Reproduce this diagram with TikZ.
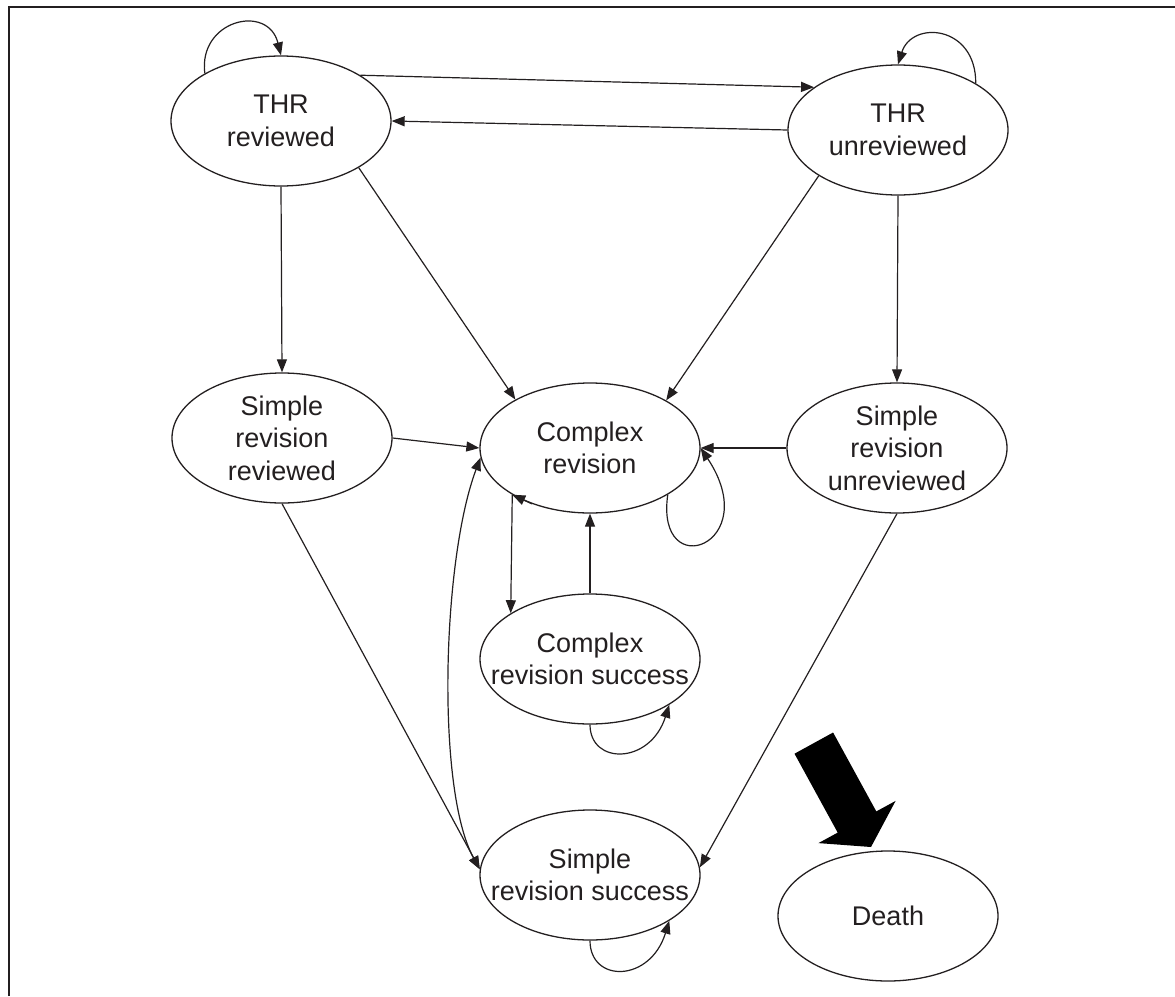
\documentclass[tikz,border=0pt]{standalone}
\usepackage{fontspec}
\setmainfont{Liberation Sans}
\usepackage{xcolor}
\definecolor{STink}{HTML}{231F20}
\usetikzlibrary{arrows.meta, shapes.geometric}

\begin{document}
\begin{tikzpicture}[x=1pt, y=-1pt,
  stTip/.tip={Triangle[length=13pt, width=10pt]},
  state/.style={ellipse, draw=STink, line width=1.3pt, minimum width=220pt,
    minimum height=130pt, inner xsep=-30pt, inner ysep=-5pt, align=center,
    text=STink, font=\fontsize{27}{32.5}\selectfont},
  trans/.style={draw=STink, line width=1.2pt, -stTip}]
\useasboundingbox (0,0) rectangle (1175,996);
% Frame
\draw[STink, line width=1.6pt] (9,996) -- (9,7) -- (1175,7);
% States
\node[state] (thrRev)   at (281,121) {THR\\reviewed};
\node[state] (thrUnrev) at (898,130) {THR\\unreviewed};
\node[state] (srRev)    at (282,438) {Simple\\revision\\reviewed};
\node[state] (cmplx)    at (590,448) {Complex\\revision};
\node[state] (srUnrev)  at (897,448) {Simple\\revision\\unreviewed};
\node[state] (cmplxSucc) at (590,659) {Complex\\revision success};
\node[state] (srSucc)   at (590,875) {Simple\\revision success};
\node[state] (death)    at (888,916) {Death};
% Transitions between the THR states
\draw[trans] (thrRev.148) .. controls (198,20) and (268,3) .. (thrRev.north);
\draw[trans] (thrUnrev.31) .. controls (976,25) and (912,20) .. (thrUnrev.north);
\draw[trans] (thrRev.30) -- (thrUnrev.153);
\draw[trans] (thrUnrev.west) -- (thrRev.east);
\draw[trans] (thrRev.south) -- (srRev.north);
\draw[trans] (thrRev.-31) -- (cmplx.147);
\draw[trans] (thrUnrev.-150) -- (cmplx.32);
\draw[trans] (thrUnrev.south) -- (srUnrev.north);
% Revisions
\draw[trans] (srRev.east) -- (cmplx.west);
\draw[trans] (srUnrev.west) -- (cmplx.east);
\draw[trans] (cmplx.-31) .. controls (655,585) and (765,545) .. (cmplx.east);
\draw[trans] (cmplx.224) -- (cmplx.211);
\draw[trans] (cmplx.211) -- (cmplxSucc.150);
\draw[trans] (cmplxSucc.north) -- (cmplx.south);
\draw[trans] (cmplxSucc.south) .. controls (590,765) and (650,765) .. (cmplxSucc.-30);
\draw[trans, stTip-stTip] (cmplx.185) .. controls (442,560) and (436,790) .. (srSucc.177);
\draw[trans] (srRev.south) -- (srSucc.177);
\draw[trans] (srUnrev.south) -- (srSucc.4);
\draw[trans] (srSucc.south) .. controls (590,983) and (650,983) .. (srSucc.-30);
% Block arrow to death
\fill[black] (794.5,753.7) -- (833.1,732.5) -- (876.3,811.4) -- (895.6,800.9)
  -- (871,847) -- (818.4,843.1) -- (837.7,832.6) -- cycle;
\end{tikzpicture}
\end{document}
